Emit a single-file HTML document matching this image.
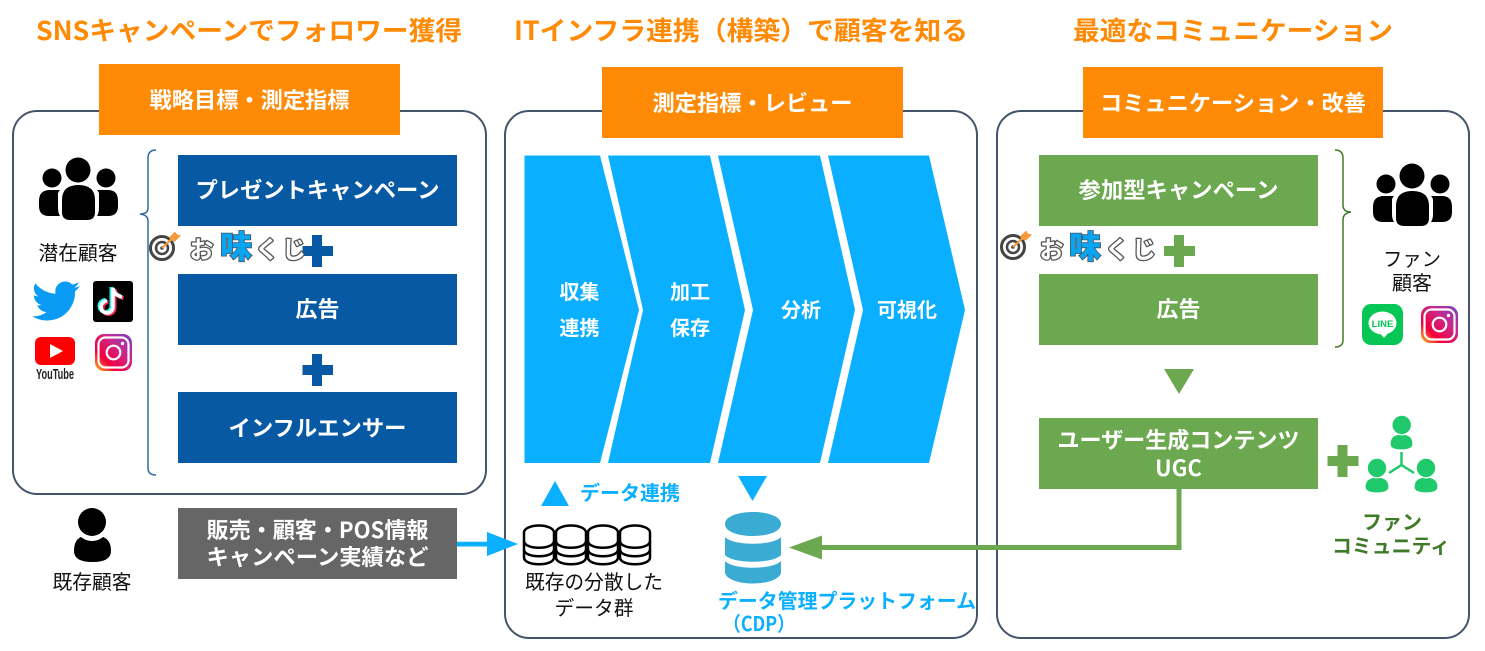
<!DOCTYPE html>
<html lang="ja"><head><meta charset="utf-8"><style>
html,body{margin:0;padding:0;background:#fff}
svg{display:block}
text{font-family:"Noto Sans CJK JP","Liberation Sans",sans-serif;text-anchor:middle}
.b{font-weight:700}
.w{fill:#fff;font-weight:700;font-size:22px}
.c{fill:#fff;font-weight:700;font-size:20px}
.k{fill:#111;font-size:20px;font-weight:400}
.t{fill:#ff8a05;font-weight:700;font-size:26px}
.logo{font-size:24px;font-weight:700;fill:#fff;stroke:#555;stroke-width:2.6px;paint-order:stroke;stroke-linejoin:round}
.aj{font-size:32px;font-weight:900;fill:#0aa5f0;stroke:#456;stroke-width:1.6px;paint-order:stroke}
</style></head><body>
<svg width="1485" height="651" viewBox="0 0 1485 651" xmlns="http://www.w3.org/2000/svg">
<defs>
<linearGradient id="ig" x1="0" y1="1" x2="1" y2="0"><stop offset="0" stop-color="#fdc015"/><stop offset=".28" stop-color="#f5003c"/><stop offset=".65" stop-color="#c72a8f"/><stop offset="1" stop-color="#7a3fc4"/></linearGradient>
<g id="group"><circle cx="78" cy="170" r="12.500"/><circle cx="52" cy="178" r="9.500"/><circle cx="106" cy="178" r="9.500"/>
<path d="M62 200q0-15 16.500-15t16.500 15v12q0 8-8 8H70q-8 0-8-8z"/>
<path d="M60 190H50q-11 0-11 11v5q0 10 10 10h11q-2-3-2-8v-14q0-2 2-4z"/><path d="M97 190h11q10 0 10 11v5q0 10-10 10H97q2-3 2-8v-14q0-2-2-4z"/></g>
<g id="insta"><rect x="0" y="0" width="37" height="37" rx="9" fill="url(#ig)"/><rect x="3.500" y="3.500" width="30" height="30" rx="7" fill="none" stroke="#fff" stroke-width="2.200"/><circle cx="18.500" cy="18.500" r="6.800" fill="none" stroke="#fff" stroke-width="2.200"/><circle cx="27.500" cy="9.500" r="1.700" fill="#fff"/></g>
<g id="target"><circle cx="0" cy="0" r="11.500" fill="none" stroke="#444" stroke-width="3"/><circle cx="0" cy="0" r="6" fill="none" stroke="#444" stroke-width="2.500"/><circle cx="0" cy="0" r="1.800" fill="#444"/><path d="M0 0L12-11" stroke="#f79a3b" stroke-width="2"/><path d="M7-10l6-6 2 3 4 1-6 6-4-1z" fill="#f79a3b" transform="translate(0 -0.500)"/></g>
<g id="db"><ellipse cx="539" cy="532.500" rx="15" ry="7"/><path d="M524 532.500v25c0 9 30 9 30 0v-25"/><path d="M524 541c0 9 30 9 30 0M524 549.500c0 9 30 9 30 0" fill="none"/></g>
</defs>

<rect x="13" y="111" width="473" height="383" rx="24" fill="#fff" stroke="#44546a" stroke-width="2"/>
<rect x="505" y="111" width="472" height="527" rx="24" fill="#fff" stroke="#44546a" stroke-width="2"/>
<rect x="997" y="111" width="472" height="527" rx="24" fill="#fff" stroke="#44546a" stroke-width="2"/>

<text class="t" x="249" y="40" textLength="426" lengthAdjust="spacingAndGlyphs">SNSキャンペーンでフォロワー獲得</text>
<text class="t" x="741" y="40" textLength="454" lengthAdjust="spacingAndGlyphs">ITインフラ連携（構築）で顧客を知る</text>
<text class="t" x="1233" y="40" textLength="320" lengthAdjust="spacingAndGlyphs">最適なコミュニケーション</text>

<rect x="99" y="64" width="301" height="71" fill="#ff8a05"/>
<rect x="602" y="67" width="301" height="71" fill="#ff8a05"/>
<rect x="1083" y="67" width="300" height="71" fill="#ff8a05"/>
<text class="w" x="249.500" y="108" textLength="200" lengthAdjust="spacingAndGlyphs">戦略目標・測定指標</text>
<text class="w" x="752.500" y="111" textLength="200" lengthAdjust="spacingAndGlyphs">測定指標・レビュー</text>
<text class="w" x="1233" y="111" textLength="266" lengthAdjust="spacingAndGlyphs">コミュニケーション・改善</text>

<!-- left column -->
<use href="#group" fill="#000"/>
<text class="k" x="78" y="260" textLength="79" lengthAdjust="spacingAndGlyphs">潜在顧客</text>
<path d="M156 150q-8 0-8 8v50q0 6-8 6 8 1 8 7v247q0 7 8 7" fill="none" stroke="#2e6aa6" stroke-width="1.500"/>

<path transform="translate(32 277) scale(2)" d="M23.953 4.57a10 10 0 01-2.825.775 4.958 4.958 0 002.163-2.723c-.951.555-2.005.959-3.127 1.184a4.92 4.92 0 00-8.384 4.482C7.69 8.095 4.067 6.13 1.64 3.162a4.822 4.822 0 00-.666 2.475c0 1.71.87 3.213 2.188 4.096a4.904 4.904 0 01-2.228-.616v.06a4.923 4.923 0 003.946 4.827 4.996 4.996 0 01-2.212.085 4.936 4.936 0 004.604 3.417 9.867 9.867 0 01-6.102 2.105c-.39 0-.779-.023-1.17-.067a13.995 13.995 0 007.557 2.209c9.053 0 13.998-7.496 13.998-13.985 0-.21 0-.42-.015-.63A9.935 9.935 0 0024 4.59z" fill="#0a9bf5"/>
<rect x="93" y="281" width="40" height="41" rx="3" fill="#000"/>
<path d="M113 288v19a6 6 0 1 1-6-6M113 288q1 7 9 9" fill="none" stroke="#25f4ee" stroke-width="4" transform="translate(-1.500 -1)"/>
<path d="M113 288v19a6 6 0 1 1-6-6M113 288q1 7 9 9" fill="none" stroke="#fe2c55" stroke-width="4" transform="translate(1.500 1)"/>
<path d="M113 288v19a6 6 0 1 1-6-6M113 288q1 7 9 9" fill="none" stroke="#fff" stroke-width="3.600"/>
<rect x="35" y="337" width="40" height="28" rx="6" fill="#f00"/><path d="M50 344l13 7-13 7z" fill="#fff"/>
<text x="55" y="379" style="font-family:'Liberation Sans',sans-serif;font-weight:700" font-size="15" fill="#222" textLength="38" lengthAdjust="spacingAndGlyphs">YouTube</text>
<use href="#insta" x="95" y="334"/>

<g fill="#0859a3">
<rect x="178" y="155" width="279" height="71"/><rect x="178" y="274" width="279" height="71"/><rect x="178" y="392" width="279" height="71"/>
<path d="M312 235h10v11h11v10h-11v11h-10v-11h-9.500v-10h9.500z"/>
<path d="M312 354h10v11h11v10h-11v11h-10v-11h-9.500v-10h9.500z"/>
</g>
<text class="w" x="317.500" y="198" textLength="244" lengthAdjust="spacingAndGlyphs">プレゼントキャンペーン</text>
<text class="w" x="317.500" y="317">広告</text>
<text class="w" x="317.500" y="436" textLength="178" lengthAdjust="spacingAndGlyphs">インフルエンサー</text>

<use href="#target" x="162" y="248"/>
<text class="logo" x="201.500" y="258">お</text>
<text class="aj" x="236" y="258">味</text>
<text class="logo" x="267" y="258">く</text>
<text class="logo" x="294" y="258">じ</text>

<use href="#target" x="1013" y="247"/>
<text class="logo" x="1051.500" y="258">お</text>
<text class="aj" x="1085" y="258">味</text>
<text class="logo" x="1117" y="258">く</text>
<text class="logo" x="1144" y="258">じ</text>

<!-- chevrons -->
<g fill="#0ab0ff">
<path d="M524.500 155.500H600L639 310 600 463H524.500z"/>
<path d="M608 155.500H710L745 310 710 463H608L643 310z"/>
<path d="M718 155.500H820L855 310 820 463H718L753 310z"/>
<path d="M828 155.500H929L965 310 929 463H828L863 310z"/>
</g>
<text class="c" x="579.500" y="299">収集</text>
<text class="c" x="579.500" y="335">連携</text>
<text class="c" x="690" y="299">加工</text>
<text class="c" x="690" y="335">保存</text>
<text class="c" x="801" y="317">分析</text>
<text class="c" x="907" y="317">可視化</text>

<!-- bottom middle -->
<path d="M541 506l14-25 14 25z" fill="#0ab0ff"/>
<text class="b" x="630" y="500" style="font-size:20px" fill="#0ab0ff" textLength="100" lengthAdjust="spacingAndGlyphs">データ連携</text>
<path d="M738 476h29l-14.500 25z" fill="#0ab0ff"/>

<g fill="#fff" stroke="#000" stroke-width="2.500">
<use href="#db"/>
<use href="#db" x="32"/>
<use href="#db" x="64"/>
<use href="#db" x="96"/>
</g>
<text class="k" x="594" y="589" textLength="138" lengthAdjust="spacingAndGlyphs">既存の分散した</text>
<text class="k" x="594" y="615" textLength="79" lengthAdjust="spacingAndGlyphs">データ群</text>

<g fill="#3aabd2">
<path d="M725 524c0-16 56-16 56 0s-56 16-56 0z"/>
<path d="M725 537c8 9 48 9 56 0v18c-8 9-48 9-56 0z"/>
<path d="M725 561c8 9 48 9 56 0v12c-4 14-52 14-56 0z"/>
</g>
<text class="b" x="847" y="608" style="font-size:20px" fill="#0ab0ff" textLength="258" lengthAdjust="spacingAndGlyphs">データ管理プラットフォーム</text>
<text x="759" y="631" style="font-size:20px;font-weight:700" fill="#0ab0ff" textLength="72" lengthAdjust="spacingAndGlyphs">（CDP）</text>

<!-- existing customers -->
<circle cx="92" cy="522" r="14" fill="#000"/>
<path d="M74 551q0-11 7-14 5 4 11 4t11-4q8 3 8 14 0 11-18.500 11T74 551z" fill="#000"/>
<text class="k" x="92" y="589" textLength="79" lengthAdjust="spacingAndGlyphs">既存顧客</text>
<rect x="178" y="508" width="279" height="71" fill="#666"/>
<text class="w" x="317.500" y="538" textLength="222" lengthAdjust="spacingAndGlyphs">販売・顧客・POS情報</text>
<text class="w" x="317.500" y="565" textLength="222" lengthAdjust="spacingAndGlyphs">キャンペーン実績など</text>
<path d="M457 541.800h30V532l31 12-31 12v-9.500h-30z" fill="#0ab0ff"/>

<!-- right column -->
<g fill="#6ca84f">
<rect x="1039" y="155" width="279" height="71"/><rect x="1039" y="274" width="279" height="71"/><rect x="1039" y="418" width="279" height="71"/>
<path d="M1174 235h10v11h11v10h-11v11h-10v-11h-10v-10h10z"/>
<path d="M1164 369h30l-15 25z"/>
<path d="M1337.500 445h10v11h11v10h-11v11h-10v-11h-10v-10h10z"/>
</g>
<text class="w" x="1178.500" y="448" textLength="242" lengthAdjust="spacingAndGlyphs">ユーザー生成コンテンツ</text>
<text class="w" x="1178.500" y="198" textLength="200" lengthAdjust="spacingAndGlyphs">参加型キャンペーン</text>
<text class="w" x="1178.500" y="317">広告</text>
<text class="w" x="1178.500" y="476" style="font-weight:700">UGC</text>
<path d="M1179 489v58.500H820" fill="none" stroke="#6ca84f" stroke-width="5"/>
<path d="M789 547.500l33-12v24z" fill="#6ca84f"/>

<path d="M1335 150q8 0 8 8v47q0 7 8 7-8 1-8 8v120q0 7-8 7" fill="none" stroke="#3f7a28" stroke-width="1.500"/>
<use href="#group" x="1334" y="6" fill="#000"/>
<text class="k" x="1412" y="266" textLength="58" lengthAdjust="spacingAndGlyphs">ファン</text>
<text class="k" x="1412" y="290" textLength="40" lengthAdjust="spacingAndGlyphs">顧客</text>
<rect x="1362" y="304" width="41" height="41" rx="9" fill="#06c755"/>
<ellipse cx="1382.500" cy="323" rx="14" ry="11.500" fill="#fff"/><path d="M1380 333l4 5 5-6z" fill="#fff"/>
<text x="1382.500" y="327" style="font-family:'Liberation Sans',sans-serif;font-weight:700" font-size="9.500" fill="#06c755">LINE</text>
<use href="#insta" x="1421" y="306"/>

<g fill="#20ca6c" stroke="#fff" stroke-width="1.200">
<path d="M1390 444q0-10 11.500-10t11.500 10q0 6-11.500 6t-11.500-6z"/><circle cx="1401.700" cy="425" r="9.800"/>
<path d="M1365 487q0-10 12-10t12 10q0 6-12 6t-12-6z"/><circle cx="1377" cy="468" r="9.800"/>
<path d="M1414 487q0-10 12-10t12 10q0 6-12 6t-12-6z"/><circle cx="1426" cy="468" r="9.800"/>
</g>
<path d="M1401.500 452v13M1401.500 465l-12.500 8M1401.500 465l12.500 8" fill="none" stroke="#20ca6c" stroke-width="2.500"/>
<text class="b" x="1392" y="529" style="font-size:20px" fill="#3f7a28" textLength="60" lengthAdjust="spacingAndGlyphs">ファン</text>
<text class="b" x="1391" y="553" style="font-size:20px" fill="#3f7a28" textLength="118" lengthAdjust="spacingAndGlyphs">コミュニティ</text>
</svg>
</body></html>
